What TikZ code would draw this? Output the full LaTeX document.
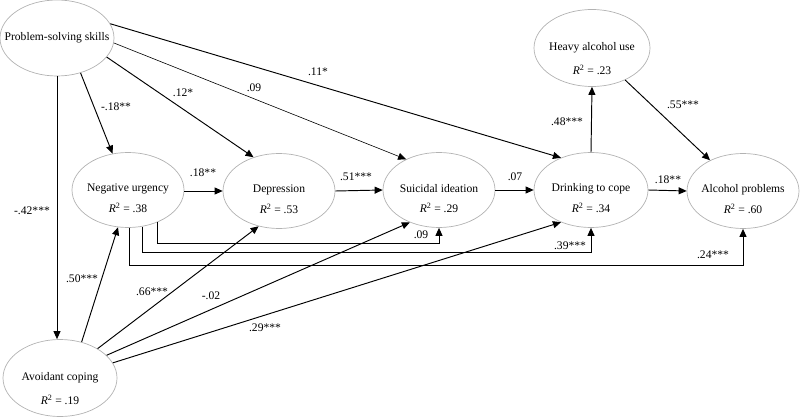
\documentclass[tikz,border=0pt]{standalone}
\usepackage{fontspec}
\setmainfont{Liberation Serif}
\usetikzlibrary{arrows.meta,shapes.geometric}
\newcommand{\rsq}[1]{\textit{R}\textsuperscript{2} = #1}
\begin{document}
\begin{tikzpicture}[x=1pt,y=-1pt,
  font=\fontsize{11.6}{13}\selectfont,
  var/.style={draw=black!30, line width=0.7pt, ellipse, inner sep=0pt, minimum width=112pt, minimum height=75pt},
  rsqlab/.style={yshift=-18pt},
  arr/.style={line width=0.95pt, -{Triangle[length=8pt,width=7pt]}},
  thinarr/.style={line width=0.6pt, -{Triangle[length=8pt,width=7pt]}},
  coef/.style={inner sep=1pt}]
\useasboundingbox (0,0) rectangle (800,417);

% nodes
\node[var, minimum width=114pt, minimum height=76pt, label={center:Problem-solving skills}] (pss) at (57,38) {};
\node[var, label={[yshift=1pt]center:Negative urgency}, label={[rsqlab]center:\rsq{.38}}] (nu) at (128,190) {};
\node[var, label={[yshift=1pt]center:Depression}, label={[rsqlab]center:\rsq{.53}}] (dep) at (279,191) {};
\node[var, label={[yshift=1pt]center:Suicidal ideation}, label={[rsqlab]center:\rsq{.29}}] (si) at (439,190) {};
\node[var, minimum width=114pt, label={[yshift=1pt]center:Drinking to cope}, label={[rsqlab]center:\rsq{.34}}] (dc) at (591,190) {};
\node[var, label={[yshift=1pt]center:Alcohol problems}, label={[rsqlab]center:\rsq{.60}}] (ap) at (743,191) {};
\node[var, minimum width=116pt, minimum height=77pt, label={center:Heavy alcohol use}, label={[yshift=-22pt]center:\rsq{.23}}] (hau) at (592,48) {};
\node[var, minimum width=114pt, minimum height=77pt, label={center:Avoidant coping}, label={[yshift=-22pt]center:\rsq{.19}}] (ac) at (60,378) {};

% paths from problem-solving skills
\draw[arr] (pss.-56) -- (nu.113);
\draw[arr] (pss.-21) -- (dep.127);
\draw[thinarr] (pss.-5) -- (si.137);
\draw[arr] (pss.15) -- (dc.133);
\draw[arr] (pss.south) -- (pss.south |- ac.north);

% row arrows
\draw[arr] (dep.west -| nu.east) -- (dep.west);
\draw[arr] (dep.east) -- (si.west);
\draw[arr] (si.east) -- (dc.west);
\draw[arr] (dc.east) -- (ap.west);
\draw[arr] (dc.north) -- (hau.south);
\draw[arr] (hau.-44) -- (ap.137);

% from avoidant coping
\draw[arr] (ac.59) -- (nu.-105);
\draw[arr] (ac.38) -- (dep.-120);
\draw[arr] (ac.26) -- (si.-132);
\draw[arr] (ac.16) -- (dc.-133);

% elbow paths from negative urgency
\draw[arr] (nu.-47) -- (nu.-47 |- 0,243) -| (si.south);
\draw[arr] (nu.-68) -- (nu.-68 |- 0,252) -| (dc.south);
\draw[arr] (nu.-88) -- (nu.-88 |- 0,265) -| (ap.south);

% coefficients
\node[coef] (c1) at (116,107) {-.18**};
\node[coef] (c2) at (183,93) {.12*};
\node[coef] (c3) at (254,88) {.09};
\node[coef] (c4) at (318,72) {.11*};
\node[coef] (c5) at (32,211) {-.42***};
\node[coef] (c6) at (203,173) {.18**};
\node[coef] (c7) at (356,177) {.51***};
\node[coef] (c8) at (515,177) {.07};
\node[coef] (c9) at (668,180) {.18**};
\node[coef] (c10) at (567,122) {.48***};
\node[coef] (c11) at (683,105) {.55***};
\node[coef] (c12) at (82,279) {.50***};
\node[coef] (c13) at (152,292) {.66***};
\node[coef] (c14) at (211,296) {-.02};
\node[coef] (c15) at (265,328) {.29***};
\node[coef] (c16) at (421,235) {.09};
\node[coef] (c17) at (570,246) {.39***};
\node[coef] (c18) at (713,255) {.24***};
\end{tikzpicture}
\end{document}
